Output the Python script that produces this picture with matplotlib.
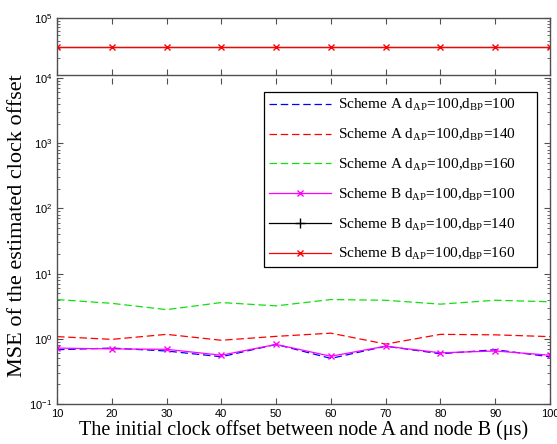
import matplotlib
matplotlib.use("Agg")
import matplotlib.pyplot as plt
from matplotlib.lines import Line2D
from matplotlib.ticker import LogLocator, NullFormatter, FixedLocator, FuncFormatter
import numpy as np

plt.rcParams["mathtext.fontset"] = "custom"
plt.rcParams["mathtext.rm"] = "Liberation Serif"
plt.rcParams["mathtext.it"] = "Liberation Serif:italic"
plt.rcParams["mathtext.sf"] = "Liberation Sans"

offset_us = [10, 20, 30, 40, 50, 60, 70, 80, 90, 100]

mse_a_100 = [0.68, 0.72, 0.65, 0.53, 0.82, 0.50, 0.77, 0.59, 0.68, 0.53]
mse_a_140 = [1.08, 0.98, 1.17, 0.95, 1.09, 1.22, 0.83, 1.17, 1.15, 1.08]
mse_a_160 = [4.0, 3.5, 2.8, 3.6, 3.2, 4.0, 3.9, 3.4, 3.9, 3.7]
mse_b_100 = [0.72, 0.70, 0.69, 0.56, 0.82, 0.54, 0.77, 0.61, 0.65, 0.56]
mse_b_140 = [3.06e4] * 10
mse_b_160 = [3.06e4] * 10

labels = [
    r"Scheme A d$_{\mathrm{AP}}$=100,d$_{\mathrm{BP}}$=100",
    r"Scheme A d$_{\mathrm{AP}}$=100,d$_{\mathrm{BP}}$=140",
    r"Scheme A d$_{\mathrm{AP}}$=100,d$_{\mathrm{BP}}$=160",
    r"Scheme B d$_{\mathrm{AP}}$=100,d$_{\mathrm{BP}}$=100",
    r"Scheme B d$_{\mathrm{AP}}$=100,d$_{\mathrm{BP}}$=140",
    r"Scheme B d$_{\mathrm{AP}}$=100,d$_{\mathrm{BP}}$=160",
]

SPINE = "#505050"
TICK_FONT = "Liberation Sans"
SERIF = "Liberation Serif"
GREEN = "#10e010"


def pow_fmt(v, pos):
    return r"$\mathsf{10^{%d}}$" % int(round(np.log10(v)))


def style_axes(ax):
    for s in ax.spines.values():
        s.set_color(SPINE)
        s.set_linewidth(1.0)
    ax.tick_params(which="both", direction="in", top=True, right=True,
                   color=SPINE, labelsize=8, labelcolor="black")
    ax.tick_params(which="major", length=4)
    ax.tick_params(which="minor", length=2)
    for lab in ax.get_xticklabels() + ax.get_yticklabels():
        lab.set_fontfamily(TICK_FONT)


def draw(ax):
    dash = dict(lw=0.9, dashes=(6, 3))
    ax.plot(offset_us, mse_a_100, color="#0000ff", **dash)
    ax.plot(offset_us, mse_a_140, color="#ff0000", **dash)
    ax.plot(offset_us, mse_a_160, color=GREEN, **dash)
    ax.plot(offset_us, mse_b_100, color="#ff00ff", lw=0.9, marker="x", ms=4)
    # scheme B, d_BP=140 sits right under the d_BP=160 curve
    ax.plot(offset_us, mse_b_140, color="black", lw=0.9)
    ax.plot(offset_us, mse_b_160, color="#ff0000", lw=0.9, marker="x", ms=4)


fig = plt.figure(figsize=(5.57, 4.44), dpi=100)
left, width = 57 / 557, 493 / 557
ax_top = fig.add_axes([left, 1 - 75 / 444, width, 57 / 444])
ax_bot = fig.add_axes([left, 1 - 404 / 444, width, 326 / 444])

for ax in (ax_top, ax_bot):
    draw(ax)
    ax.set_yscale("log")
    ax.set_xlim(10, 100)
    ax.set_xticks(offset_us)
    ax.yaxis.set_minor_locator(LogLocator(base=10, subs=range(2, 10), numticks=20))
    ax.yaxis.set_minor_formatter(NullFormatter())
    ax.yaxis.set_major_formatter(FuncFormatter(pow_fmt))

ax_top.set_ylim(1e4, 1e5)
ax_top.yaxis.set_major_locator(FixedLocator([1e5]))
ax_top.set_xticklabels([])
ax_bot.set_ylim(1e-1, 1e4)
ax_bot.yaxis.set_major_locator(FixedLocator([1e-1, 1e0, 1e1, 1e2, 1e3, 1e4]))
ax_bot.spines["top"].set_visible(False)
ax_bot.patch.set_alpha(0)

style_axes(ax_top)
style_axes(ax_bot)

dash_h = dict(lw=0.9, dashes=(6, 3))
handles = [
    Line2D([], [], color="#0000ff", **dash_h),
    Line2D([], [], color="#ff0000", **dash_h),
    Line2D([], [], color=GREEN, **dash_h),
    Line2D([], [], color="#ff00ff", lw=0.9, marker="x", ms=4),
    Line2D([], [], color="black", lw=0.9, marker="+", ms=7),
    Line2D([], [], color="#ff0000", lw=0.9, marker="x", ms=4),
]
# MATLAB leaves extra room on the right of the legend text
leg_labels = [lab + "\u2003\u2002" for lab in labels]
leg = ax_bot.legend(handles, leg_labels, loc="upper right", bbox_to_anchor=(0.974, 0.957),
                    borderaxespad=0, fancybox=False, edgecolor="black", framealpha=1,
                    handlelength=4.05, handletextpad=0.5, labelspacing=0.9, borderpad=0.33,
                    prop={"family": SERIF, "size": 11})
leg.get_frame().set_linewidth(0.9)

ax_bot.set_xlabel("The initial clock offset between node A and node B (\u03bcs)",
                  fontfamily=SERIF, fontsize=14.5, labelpad=1)
fig.text(0.032, 1 - 226 / 444, "MSE of the estimated clock offset", rotation=90,
         ha="center", va="center", fontfamily=SERIF, fontsize=16)

fig.savefig("out.png", dpi=100)
